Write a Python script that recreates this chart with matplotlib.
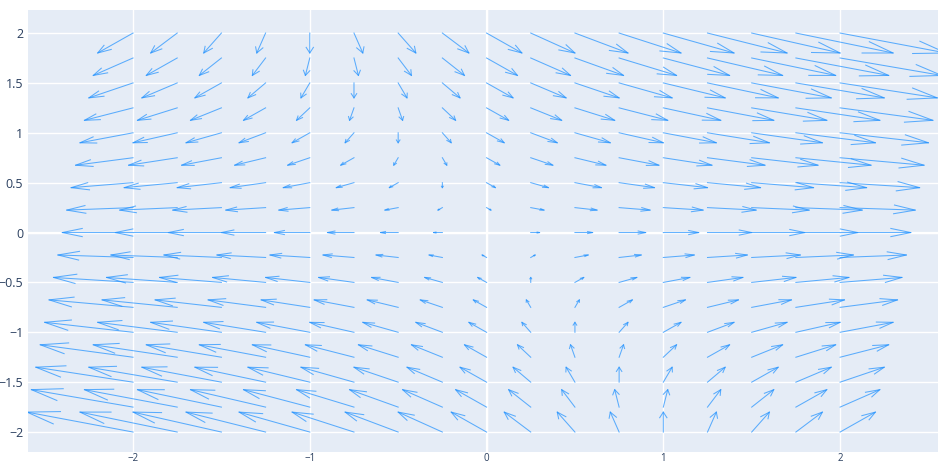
import numpy as np
import matplotlib
matplotlib.use("Agg")
import matplotlib.pyplot as plt

# grid of arrow tails
xs = [-2, -1.75, -1.5, -1.25, -1, -0.75, -0.5, -0.25, 0, 0.25, 0.5, 0.75, 1, 1.25, 1.5, 1.75, 2]
ys = [-2, -1.75, -1.5, -1.25, -1, -0.75, -0.5, -0.25, 0, 0.25, 0.5, 0.75, 1, 1.25, 1.5, 1.75, 2]

# horizontal component, one row per y value (bottom to top)
u = [
    [-6, -5.5, -5, -4.5, -4, -3.5, -3, -2.5, -2, -1.5, -1, -0.5, 0, 0.5, 1, 1.5, 2],
    [-5.75, -5.25, -4.75, -4.25, -3.75, -3.25, -2.75, -2.25, -1.75, -1.25, -0.75, -0.25, 0.25, 0.75, 1.25, 1.75, 2.25],
    [-5.5, -5, -4.5, -4, -3.5, -3, -2.5, -2, -1.5, -1, -0.5, 0, 0.5, 1, 1.5, 2, 2.5],
    [-5.25, -4.75, -4.25, -3.75, -3.25, -2.75, -2.25, -1.75, -1.25, -0.75, -0.25, 0.25, 0.75, 1.25, 1.75, 2.25, 2.75],
    [-5, -4.5, -4, -3.5, -3, -2.5, -2, -1.5, -1, -0.5, 0, 0.5, 1, 1.5, 2, 2.5, 3],
    [-4.75, -4.25, -3.75, -3.25, -2.75, -2.25, -1.75, -1.25, -0.75, -0.25, 0.25, 0.75, 1.25, 1.75, 2.25, 2.75, 3.25],
    [-4.5, -4, -3.5, -3, -2.5, -2, -1.5, -1, -0.5, 0, 0.5, 1, 1.5, 2, 2.5, 3, 3.5],
    [-4.25, -3.75, -3.25, -2.75, -2.25, -1.75, -1.25, -0.75, -0.25, 0.25, 0.75, 1.25, 1.75, 2.25, 2.75, 3.25, 3.75],
    [-4, -3.5, -3, -2.5, -2, -1.5, -1, -0.5, 0, 0.5, 1, 1.5, 2, 2.5, 3, 3.5, 4],
    [-3.75, -3.25, -2.75, -2.25, -1.75, -1.25, -0.75, -0.25, 0.25, 0.75, 1.25, 1.75, 2.25, 2.75, 3.25, 3.75, 4.25],
    [-3.5, -3, -2.5, -2, -1.5, -1, -0.5, 0, 0.5, 1, 1.5, 2, 2.5, 3, 3.5, 4, 4.5],
    [-3.25, -2.75, -2.25, -1.75, -1.25, -0.75, -0.25, 0.25, 0.75, 1.25, 1.75, 2.25, 2.75, 3.25, 3.75, 4.25, 4.75],
    [-3, -2.5, -2, -1.5, -1, -0.5, 0, 0.5, 1, 1.5, 2, 2.5, 3, 3.5, 4, 4.5, 5],
    [-2.75, -2.25, -1.75, -1.25, -0.75, -0.25, 0.25, 0.75, 1.25, 1.75, 2.25, 2.75, 3.25, 3.75, 4.25, 4.75, 5.25],
    [-2.5, -2, -1.5, -1, -0.5, 0, 0.5, 1, 1.5, 2, 2.5, 3, 3.5, 4, 4.5, 5, 5.5],
    [-2.25, -1.75, -1.25, -0.75, -0.25, 0.25, 0.75, 1.25, 1.75, 2.25, 2.75, 3.25, 3.75, 4.25, 4.75, 5.25, 5.75],
    [-2, -1.5, -1, -0.5, 0, 0.5, 1, 1.5, 2, 2.5, 3, 3.5, 4, 4.5, 5, 5.5, 6],
]

# vertical component, same for every arrow in a row
v_row = [2, 1.75, 1.5, 1.25, 1, 0.75, 0.5, 0.25, 0, -0.25, -0.5, -0.75, -1, -1.25, -1.5, -1.75, -2]

scale = 0.1
arrow_scale = 0.3
angle = np.pi / 9

X, Y = np.meshgrid(xs, ys)
U = np.array(u, dtype=float) * scale
V = np.repeat(np.array(v_row, dtype=float)[:, None], len(xs), axis=1) * scale

x0, y0 = X.ravel(), Y.ravel()
x1, y1 = x0 + U.ravel(), y0 + V.ravel()

# shafts
nan = np.full_like(x0, np.nan)
shaft_x = np.column_stack([x0, x1, nan]).ravel()
shaft_y = np.column_stack([y0, y1, nan]).ravel()

# heads
length = np.hypot(x1 - x0, y1 - y0) * arrow_scale
ang = np.arctan2(y1 - y0, x1 - x0)
p1x = x1 - length * np.cos(ang + angle)
p1y = y1 - length * np.sin(ang + angle)
p2x = x1 - length * np.cos(ang - angle)
p2y = y1 - length * np.sin(ang - angle)
head_x = np.column_stack([p1x, x1, p2x, nan]).ravel()
head_y = np.column_stack([p1y, y1, p2y, nan]).ravel()

plt.rcParams['font.family'] = ['Open Sans', 'DejaVu Sans']

fig = plt.figure(figsize=(9.38, 4.63), dpi=100)
ax = fig.add_axes([27.5 / 938, 11 / 463, 1 - 27.5 / 938, 442 / 463])
ax.set_facecolor('#E5ECF6')

color = '#1E90FF'
ax.plot(shaft_x, shaft_y, color=color, lw=0.75, alpha=0.7, zorder=3)
ax.plot(head_x, head_y, color=color, lw=0.75, alpha=0.7, zorder=3)

ax.set_xlim(-2.597, 2.554)
ax.set_ylim(-2.20, 2.231)
ax.set_xticks([-2, -1, 0, 1, 2])
ax.set_yticks([-2, -1.5, -1, -0.5, 0, 0.5, 1, 1.5, 2])
ax.set_yticklabels(['−2', '−1.5', '−1', '−0.5', '0', '0.5', '1', '1.5', '2'])
ax.grid(True, color='white', lw=1, zorder=1)
ax.axvline(0, color='white', lw=1.6, zorder=2)
ax.axhline(0, color='white', lw=1.6, zorder=2)
ax.set_axisbelow(True)
ax.tick_params(axis='y', length=0, labelsize=9, colors='#2a3f5f', pad=3)
ax.tick_params(axis='x', length=0, labelsize=7, colors='#2a3f5f', pad=1)
for s in ax.spines.values():
    s.set_visible(False)

fig.savefig('out.png', dpi=100)
